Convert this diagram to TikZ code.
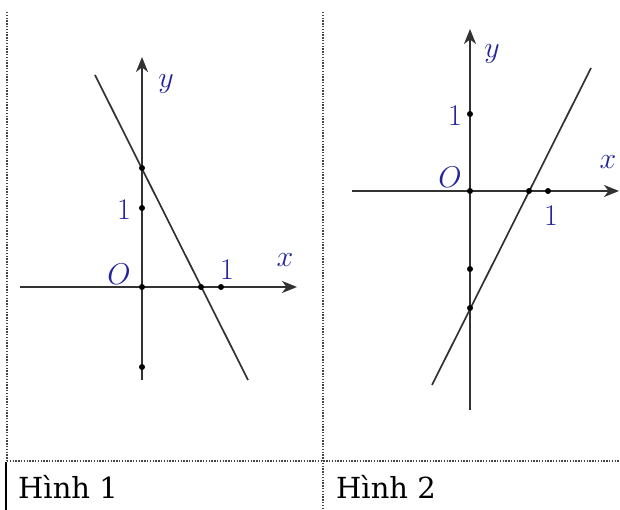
\RequirePackage{fix-cm}
\documentclass[tikz,border=0pt]{standalone}
\usepackage{fontspec}
\newfontfamily\capfont{DejaVu Serif}
\usetikzlibrary{arrows.meta}
\definecolor{lblue}{RGB}{35,35,155}
\definecolor{axgray}{RGB}{50,50,50}
\definecolor{brd}{RGB}{70,70,70}
\tikzset{
  axis/.style={draw=axgray,line width=2pt,-{Stealth[length=15pt,width=12pt,inset=4.5pt]}},
  graph/.style={draw=axgray,line width=1.7pt},
  pt/.style={fill=black,circle,inner sep=0pt,minimum size=6pt},
  lab/.style={text=lblue,font=\fontsize{30}{34}\selectfont,inner sep=0pt},
  border/.style={draw=brd,line width=1.4pt,dash pattern=on 1.4pt off 1.4pt},
  captext/.style={font=\capfont\fontsize{29}{33}\selectfont,anchor=base west,inner sep=0pt}
}
\begin{document}
\begin{tikzpicture}[x=1pt,y=-1pt]
\useasboundingbox (0,0) rectangle (620,510);
% table borders
\coordinate (tl) at (7,12);
\coordinate (bl) at (7,461);
\coordinate (tm) at (323,12);
\coordinate (bm) at (323,510);
\coordinate (br) at (620,461);
\coordinate (sl1) at (6,462);
\coordinate (sl2) at (6,510);
\draw[border] (tl) -- (bl);
\draw[border] (tm) -- (bm);
\draw[border] (bl) -- (br);
\draw[line width=2.2pt] (sl1) -- (sl2);
\node[captext] (c1) at (18,498) {Hình 1};
\node[captext] (c2) at (336,498) {Hình 2};
% ---------- Figure 1
\coordinate (xa1) at (20,287);
\coordinate (xb1) at (297,287);
\coordinate (ya1) at (142,380);
\coordinate (yb1) at (142,57);
\draw[axis] (xa1) -- (xb1);
\draw[axis] (ya1) -- (yb1);
\coordinate (la1) at (95,75);
\coordinate (lb1) at (248,380);
\draw[graph] (la1) -- (lb1);
\node[pt] (o1) at (142,287) {};
\node[pt] (p1a) at (142,208) {};
\node[pt] (p1b) at (142,168) {};
\node[pt] (p1c) at (142,367) {};
\node[pt] (p1d) at (201,287) {};
\node[pt] (p1e) at (221,287) {};
\node[lab] (y1) at (166,84) {$y$};
\node[lab] (x1) at (285,260) {$x$};
\node[lab] (O1) at (119,274) {$O$};
\node[lab] (n1a) at (124,210) {$1$};
\node[lab] (n1b) at (227,270) {$1$};
% ---------- Figure 2
\coordinate (xa2) at (352,191);
\coordinate (xb2) at (619,191);
\coordinate (ya2) at (470,410);
\coordinate (yb2) at (470,29);
\draw[axis] (xa2) -- (xb2);
\draw[axis] (ya2) -- (yb2);
\coordinate (la2) at (432,385);
\coordinate (lb2) at (591,68);
\draw[graph] (la2) -- (lb2);
\node[pt] (o2) at (470,191) {};
\node[pt] (p2a) at (470,114) {};
\node[pt] (p2b) at (470,269) {};
\node[pt] (p2c) at (470,308) {};
\node[pt] (p2d) at (529,191) {};
\node[pt] (p2e) at (548,191) {};
\node[lab] (y2) at (492,54) {$y$};
\node[lab] (x2) at (608,162) {$x$};
\node[lab] (O2) at (450,177) {$O$};
\node[lab] (n2a) at (455,116) {$1$};
\node[lab] (n2b) at (551,216) {$1$};
\end{tikzpicture}
\end{document}
